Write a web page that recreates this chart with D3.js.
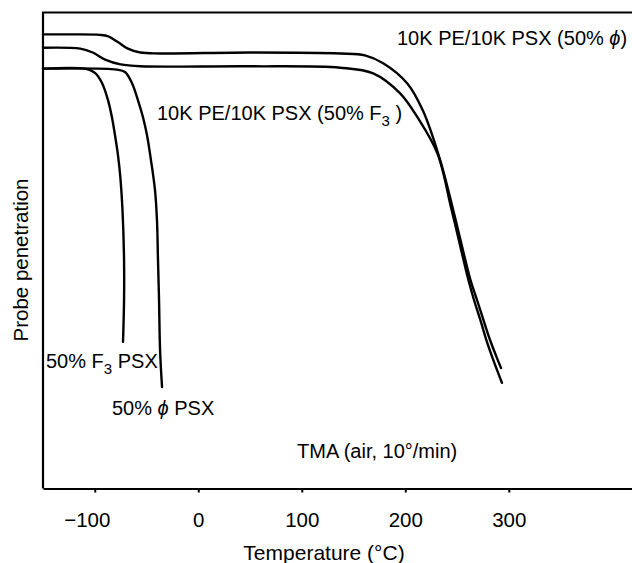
<!DOCTYPE html>
<html>
<head>
<meta charset="utf-8">
<script src="https://cdn.jsdelivr.net/npm/d3@7"></script>
<style>
  body { margin: 0; background: #fff; }
  svg { display: block; }
  text { font-family: "Liberation Sans", Arial, Helvetica, sans-serif; fill: #000; }
  .curve { fill: none; stroke: #000; stroke-width: 2.4; stroke-linecap: round; }
</style>
</head>
<body>
<svg width="632" height="563"></svg>
<script>

// temperature (°C) and probe penetration (arbitrary, 0 = top of frame, 100 = baseline)
let copolyPhiT = [-150, -123, -95, -87, -77, -68, -56, -37, 50, 137, 161, 179, 202, 217, 233.7, 246.3, 263, 269.3, 276.1, 281.9, 288.6, 292.5]
let copolyPhiP = [4.6, 4.6, 4.7, 5.0, 6.3, 7.6, 8.4, 8.6, 8.4, 8.6, 9.0, 10.7, 14.9, 20.6, 31.0, 41.5, 56.2, 60.4, 65.0, 68.8, 72.6, 74.7]

let copolyF3T = [-150, -114, -102, -90, -75, -56, 50, 137, 169, 195, 212, 231, 244.8, 261, 266.4, 273.1, 278.9, 285.7, 293.4]
let copolyF3P = [7.4, 7.6, 8.4, 9.9, 10.9, 11.3, 11.3, 11.6, 12.8, 17.0, 22.1, 29.6, 41.5, 56.2, 60.4, 65.0, 69.2, 73.4, 77.8]

let psxF3T = [-150, -107.5, -99.8, -93, -87.2, -83.4, -80.5, -77.6, -75.2, -73.2, -71.7, -71.7, -72.7]
let psxF3P = [11.8, 11.9, 12.7, 14.8, 18.4, 22.0, 25.7, 29.9, 34.8, 41.5, 52.0, 60.4, 69.2]

let psxPhiT = [-150, -78.6, -70.8, -64.1, -58.3, -53.4, -49.6, -45.7, -41.8, -39.9, -38.9, -37.9, -36.9, -35]
let psxPhiP = [11.8, 12.0, 12.5, 14.8, 18.4, 22.0, 25.7, 31.0, 37.3, 43.6, 52.0, 60.4, 70.9, 78.7]

let tempTicks = [-100, 0, 100, 200, 300]

let svg = d3.select('svg')

let x = d3.scaleLinear().domain([-150, 420]).range([43, 633])
let y = d3.scaleLinear().domain([0, 100]).range([12.5, 488.5])

let line = d3.line()
  .x(d => x(d[0]))
  .y(d => y(d[1]))
  .curve(d3.curveCatmullRom.alpha(0.5))

let series = [
  [copolyPhiT, copolyPhiP],
  [copolyF3T, copolyF3P],
  [psxF3T, psxF3P],
  [psxPhiT, psxPhiP]
]

svg.append('g')
  .selectAll('path')
  .data(series)
  .enter().append('path')
  .attr('class', 'curve')
  .attr('d', s => line(s[0].map((t, i) => [t, s[1][i]])))

// frame: left and top edges
svg.append('path')
  .attr('d', `M${x(-150)},${y(100)}V${y(0)}H${x(420)}`)
  .attr('fill', 'none')
  .attr('stroke', '#000')
  .attr('stroke-width', 2.2)

let xAxis = svg.append('g')
  .attr('transform', `translate(0,${y(100)})`)
  .call(d3.axisBottom(x)
    .tickValues(tempTicks)
    .tickSize(4)
    .tickSizeOuter(0)
    .tickPadding(20)
    .tickFormat(d => d < 0 ? '\u2212' + Math.abs(d) : d))

xAxis.select('.domain').attr('stroke-width', 2.2)
xAxis.selectAll('.tick line').attr('stroke-width', 2)
xAxis.selectAll('.tick text')
  .attr('font-size', 20.5)
  .attr('font-family', null)
  .attr('dx', d => d < 0 ? -8 : 0)

svg.append('text')
  .attr('x', 324)
  .attr('y', 560)
  .attr('text-anchor', 'middle')
  .attr('font-size', 21)
  .text('Temperature (°C)')

svg.append('text')
  .attr('transform', 'translate(28,260) rotate(-90)')
  .attr('text-anchor', 'middle')
  .attr('font-size', 20.5)
  .text('Probe penetration')

// annotations
function label(px, py, parts) {
  let t = svg.append('text')
    .attr('x', px)
    .attr('y', py)
    .attr('font-size', 20)
  parts.forEach(p => {
    let s = t.append('tspan').text(p.text)
    if (p.sub) s.attr('dy', 6).attr('font-size', 15)
    if (p.back) s.attr('dy', -6)
    if (p.italic) s.attr('font-style', 'italic')
  })
}

label(397, 45, [{text: '10K PE/10K PSX (50% '}, {text: '\u03d5', italic: true}, {text: ')'}])
label(157, 120, [{text: '10K PE/10K PSX (50% F'}, {text: '3', sub: true}, {text: ' )', back: true}])
label(46, 368, [{text: '50% F'}, {text: '3', sub: true}, {text: ' PSX', back: true}])
label(112, 415, [{text: '50% '}, {text: '\u03d5', italic: true}, {text: ' PSX'}])
label(297, 458, [{text: 'TMA (air, 10°/min)'}])

</script>
</body>
</html>
